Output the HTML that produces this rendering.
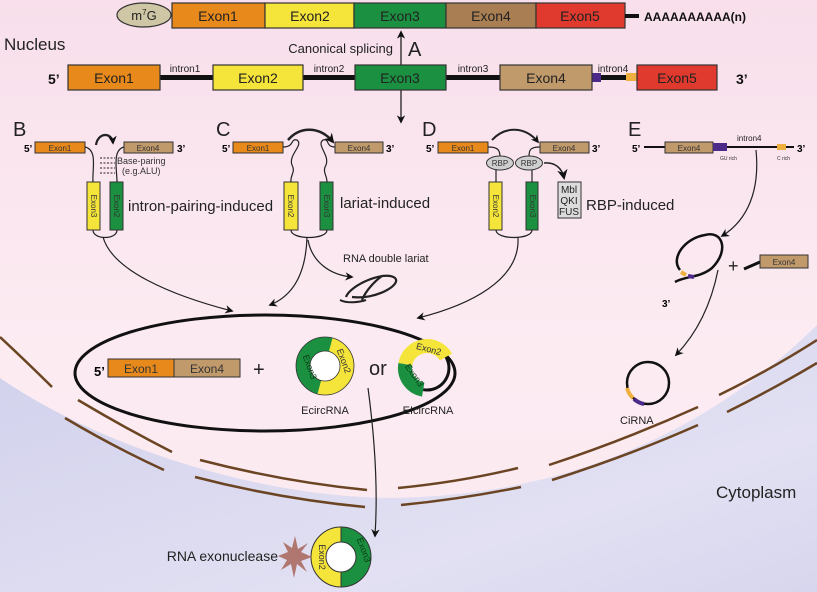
<!DOCTYPE html>
<html><head><meta charset="utf-8"><style>
html,body{margin:0;padding:0;width:817px;height:592px;overflow:hidden;background:#f8e4ee}
svg{display:block;font-family:"Liberation Sans",Arial,sans-serif}
</style></head><body>
<svg width="817" height="592" viewBox="0 0 817 592" xmlns="http://www.w3.org/2000/svg">
<defs>
<linearGradient id="pk" x1="0" y1="0" x2="0" y2="1">
<stop offset="0" stop-color="#f8dfeb"/><stop offset="0.6" stop-color="#fcecf2"/><stop offset="1" stop-color="#fbe8f0"/></linearGradient>
<linearGradient id="lv" x1="0" y1="0" x2="1" y2="1">
<stop offset="0" stop-color="#d0d0ec"/><stop offset="0.7" stop-color="#e2e0f2"/><stop offset="1" stop-color="#d8d6ee"/></linearGradient>
<marker id="ah" viewBox="0 0 10 10" refX="8" refY="5" markerWidth="7" markerHeight="7" orient="auto-start-reverse"><path d="M0,0 L10,5 L0,10 L3,5 z" fill="#111"/></marker>
<marker id="ah2" viewBox="0 0 10 10" refX="8" refY="5" markerWidth="4" markerHeight="4" orient="auto"><path d="M0,0 L10,5 L0,10 L3,5 z" fill="#111"/></marker>
</defs>
<rect width="817" height="592" fill="url(#pk)"/>
<path d="M0,378 C120,460 300,505 420,497 C560,490 700,440 817,325 L817,592 L0,592 Z" fill="url(#lv)"/>
<g stroke="#6b4523" stroke-width="2.5" fill="none">
<path d="M0,337 Q30,365 52,387"/>
<path d="M78,400 Q125,428 172,452"/><path d="M65,418 Q112,446 164,470"/>
<path d="M200,460 Q285,482 367,490"/><path d="M195,477 Q280,499 365,507"/>
<path d="M398,488 Q460,482 518,468"/><path d="M401,505 Q462,499 521,487"/>
<path d="M549,465 Q625,440 698,407"/><path d="M552,480 Q628,456 698,425"/>
<path d="M719,395 Q770,370 817,340"/><path d="M727,412 Q775,388 817,363"/>
</g>
<ellipse cx="144" cy="15" rx="27" ry="12" fill="#cfc6a6" stroke="#333" stroke-width="1.2"/>
<text x="144" y="20" font-size="13" text-anchor="middle" fill="#222">m<tspan font-size="8" dy="-5">7</tspan><tspan dy="5">G</tspan></text>
<g stroke="#333" stroke-width="1.2">
<rect x="172" y="3" width="93" height="25" fill="#e8891c"/>
<rect x="265" y="3" width="89" height="25" fill="#f5e43a"/>
<rect x="354" y="3" width="92" height="25" fill="#1a9040"/>
<rect x="446" y="3" width="90" height="25" fill="#a97e52"/>
<rect x="536" y="3" width="89" height="25" fill="#e03a2e"/>
</g>
<g font-size="14" fill="#222" text-anchor="middle">
<text x="218" y="21">Exon1</text><text x="310" y="21">Exon2</text><text x="400" y="21">Exon3</text><text x="491" y="21">Exon4</text><text x="580" y="21">Exon5</text>
</g>
<rect x="625" y="14" width="14" height="4" fill="#111"/>
<text x="644" y="21" font-size="12" font-weight="bold" fill="#111">AAAAAAAAAA(n)</text>
<text x="4" y="50" font-size="17" fill="#222">Nucleus</text>
<line x1="401" y1="122" x2="401" y2="32" stroke="#111" stroke-width="1.2" marker-end="url(#ah)" marker-start="url(#ah)"/>
<text x="393" y="53" font-size="13" text-anchor="end" fill="#222">Canonical splicing</text>
<text x="408" y="56" font-size="20" fill="#222">A</text>
<g fill="#111"><rect x="160" y="75" width="53" height="5"/><rect x="303" y="75" width="52" height="5"/><rect x="446" y="75" width="54" height="5"/><rect x="592" y="75" width="45" height="5"/></g>
<rect x="592" y="73" width="9" height="9" fill="#4b2a8a"/><rect x="626" y="73" width="11" height="8" fill="#f0b040"/>
<g stroke="#333" stroke-width="1.2">
<rect x="68" y="65" width="92" height="25" fill="#e8891c"/>
<rect x="213" y="65" width="90" height="25" fill="#f5e43a"/>
<rect x="355" y="65" width="91" height="25" fill="#1a9040"/>
<rect x="500" y="65" width="92" height="25" fill="#c19a6b"/>
<rect x="637" y="65" width="80" height="25" fill="#e03a2e"/>
</g>
<g font-size="14" fill="#222" text-anchor="middle">
<text x="114" y="83">Exon1</text><text x="258" y="83">Exon2</text><text x="400" y="83">Exon3</text><text x="546" y="83">Exon4</text><text x="677" y="83">Exon5</text>
</g>
<g font-size="10" fill="#222" text-anchor="middle"><text x="185" y="72">intron1</text><text x="329" y="72">intron2</text><text x="473" y="72">intron3</text><text x="613" y="72">intron4</text></g>
<text x="48" y="84" font-size="14" font-weight="bold" fill="#111">5’</text>
<text x="736" y="84" font-size="14" font-weight="bold" fill="#111">3’</text>

<text x="13" y="136" font-size="20" fill="#222">B</text>
<text x="24" y="152" font-size="10" font-weight="bold">5’</text>
<text x="177" y="152" font-size="10" font-weight="bold">3’</text>
<g stroke="#333" stroke-width="1"><rect x="35" y="142" width="50" height="11" fill="#e8891c"/><rect x="124" y="142" width="49" height="11" fill="#c19a6b"/>
<rect x="87" y="182" width="13" height="48" fill="#f5e43a"/><rect x="110" y="182" width="13" height="48" fill="#1a9040"/></g>
<text x="60" y="151" font-size="8" text-anchor="middle" fill="#333">Exon1</text><text x="148" y="151" font-size="8" text-anchor="middle" fill="#333">Exon4</text>
<text transform="translate(91,206) rotate(90)" font-size="8" text-anchor="middle" fill="#333">Exon3</text>
<text transform="translate(114,206) rotate(90)" font-size="8" text-anchor="middle" fill="#333">Exon2</text>
<g fill="none" stroke="#222" stroke-width="1.2">
<path d="M85,147 C98,150 92,170 93,182"/><path d="M124,147 C112,150 117,170 117,182"/>
<path d="M93,230 C93,240 117,240 117,230"/>
<path d="M96,145 C98,132 112,132 113,143" stroke-width="2.2" marker-end="url(#ah2)"/>
<path d="M100,158 H115 M100,163 H115 M100,168 H115 M100,173 H115" stroke-dasharray="2,1.5" stroke-width="1"/>
<path d="M103,237 C112,270 170,295 232,311" marker-end="url(#ah)"/>
</g>
<text x="117" y="164" font-size="9" fill="#333">Base-paring</text><text x="122" y="174" font-size="9" fill="#333">(e.g.ALU)</text>
<text x="128" y="211" font-size="15" fill="#222">intron-pairing-induced</text>

<text x="216" y="136" font-size="20" fill="#222">C</text>
<text x="222" y="152" font-size="10" font-weight="bold">5’</text>
<text x="386" y="152" font-size="10" font-weight="bold">3’</text>
<g stroke="#333" stroke-width="1"><rect x="233" y="142" width="50" height="11" fill="#e8891c"/><rect x="335" y="142" width="48" height="11" fill="#c19a6b"/>
<rect x="284" y="182" width="14" height="48" fill="#f5e43a"/><rect x="320" y="182" width="13" height="48" fill="#1a9040"/></g>
<text x="258" y="151" font-size="8" text-anchor="middle" fill="#333">Exon1</text><text x="359" y="151" font-size="8" text-anchor="middle" fill="#333">Exon4</text>
<text transform="translate(288,206) rotate(90)" font-size="8" text-anchor="middle" fill="#333">Exon2</text>
<text transform="translate(324,206) rotate(90)" font-size="8" text-anchor="middle" fill="#333">Exon3</text>
<g fill="none" stroke="#222" stroke-width="1.2">
<path d="M283,147 C295,147 290,138 297,140 C304,145 288,155 292,165 C296,172 290,175 291,182"/>
<path d="M335,147 C325,147 330,138 323,140 C316,145 330,155 326,165 C322,172 327,175 327,182"/>
<path d="M291,230 C291,240 327,240 327,230"/>
<path d="M288,140 C300,126 320,126 333,142" stroke-width="2.5" marker-end="url(#ah2)"/>
<path d="M307,237 C306,270 295,295 270,305" marker-end="url(#ah)"/>
<path d="M308,240 C312,262 330,275 352,277" marker-end="url(#ah)"/>
<path d="M346,297 C350,285 385,270 395,278 C402,285 375,300 352,297" stroke-width="2.2"/>
<path d="M362,300 C366,290 376,280 382,276" stroke-width="2.2"/>
<path d="M340,300 C348,304 360,302 366,300" stroke-width="2"/>
</g>
<text x="340" y="208" font-size="15" fill="#222">lariat-induced</text>
<text x="343" y="262" font-size="11" fill="#222">RNA double lariat</text>

<text x="422" y="136" font-size="20" fill="#222">D</text>
<text x="426" y="152" font-size="10" font-weight="bold">5’</text>
<text x="592" y="152" font-size="10" font-weight="bold">3’</text>
<g stroke="#333" stroke-width="1"><rect x="438" y="142" width="50" height="11" fill="#e8891c"/><rect x="540" y="142" width="49" height="11" fill="#c19a6b"/>
<rect x="489" y="182" width="13" height="48" fill="#f5e43a"/><rect x="526" y="182" width="12" height="48" fill="#1a9040"/>
<rect x="558" y="182" width="23" height="36" fill="#dcdcdc"/></g>
<text x="463" y="151" font-size="8" text-anchor="middle" fill="#333">Exon1</text><text x="564" y="151" font-size="8" text-anchor="middle" fill="#333">Exon4</text>
<text transform="translate(493,206) rotate(90)" font-size="8" text-anchor="middle" fill="#333">Exon2</text>
<text transform="translate(530,206) rotate(90)" font-size="8" text-anchor="middle" fill="#333">Exon3</text>
<g fill="none" stroke="#222" stroke-width="1.2">
<path d="M488,147 C498,147 500,150 500,157"/><path d="M540,147 C530,147 529,150 529,157"/>
<line x1="496" y1="170" x2="496" y2="182"/><line x1="532" y1="170" x2="532" y2="182"/>
<path d="M496,230 C496,240 532,240 532,230"/>
<path d="M492,140 C505,126 525,126 538,142" stroke-width="2" marker-end="url(#ah2)"/>
<path d="M544,163 C555,162 562,168 564,178" stroke-width="1.5" marker-end="url(#ah)"/>
<path d="M518,238 C520,280 470,305 418,318" marker-end="url(#ah)"/>
</g>
<g fill="#cfcfcf" stroke="#333" stroke-width="1"><ellipse cx="500" cy="163" rx="13.5" ry="7"/><ellipse cx="529" cy="163" rx="13.5" ry="7"/></g>
<text x="500" y="166" font-size="8" text-anchor="middle" fill="#333">RBP</text><text x="529" y="166" font-size="8" text-anchor="middle" fill="#333">RBP</text>
<g font-size="10" fill="#222" text-anchor="middle"><text x="569" y="193">Mbl</text><text x="569" y="204">QKI</text><text x="569" y="215">FUS</text></g>
<text x="586" y="210" font-size="15" fill="#222">RBP-induced</text>

<text x="628" y="136" font-size="20" fill="#222">E</text>
<text x="632" y="152" font-size="10" font-weight="bold">5’</text>
<text x="797" y="152" font-size="10" font-weight="bold">3’</text>
<line x1="644" y1="147" x2="794" y2="147" stroke="#111" stroke-width="2"/>
<rect x="665" y="142" width="48" height="11" fill="#c19a6b" stroke="#333"/>
<text x="689" y="151" font-size="8" text-anchor="middle" fill="#333">Exon4</text>
<rect x="713" y="143" width="14" height="8" fill="#4b2a8a"/>
<rect x="777" y="144" width="9" height="6" fill="#f0b040"/>
<text x="737" y="141" font-size="8" fill="#222">intron4</text>
<text x="720" y="160" font-size="5" fill="#333">GU rich</text><text x="777" y="160" font-size="5" fill="#333">C rich</text>
<g fill="none" stroke="#222" stroke-width="1.2">
<path d="M756,150 C760,190 748,220 722,236" marker-end="url(#ah)"/>
<path d="M718,270 C712,300 700,330 676,355" marker-end="url(#ah)"/>
</g>
<path d="M675,282 C685,276 700,278 712,268 C730,250 722,230 705,235 C685,238 670,258 680,270" fill="none" stroke="#111" stroke-width="2.5"/>
<line x1="681" y1="272" x2="686" y2="275" stroke="#f0b040" stroke-width="4"/>
<line x1="688" y1="276" x2="694" y2="277" stroke="#4b2a8a" stroke-width="4"/>
<text x="662" y="307" font-size="10" font-weight="bold">3’</text>
<text x="728" y="272" font-size="18" fill="#222">+</text>
<path d="M744,269 L760,262" stroke="#111" stroke-width="3"/>
<rect x="760" y="255" width="48" height="13" fill="#c19a6b" stroke="#333"/>
<text x="784" y="265" font-size="8" text-anchor="middle" fill="#333">Exon4</text>
<circle cx="648" cy="383" r="21" fill="none" stroke="#111" stroke-width="2.5"/>
<path d="M627,388 A21,21 0 0 0 633,398" fill="none" stroke="#f0b040" stroke-width="4"/>
<path d="M634,399 A21,21 0 0 0 644,404" fill="none" stroke="#4b2a8a" stroke-width="4"/>
<text x="620" y="424" font-size="11" fill="#222">CiRNA</text>

<ellipse cx="265" cy="373" rx="190" ry="58" fill="#fbeaf1" stroke="#111" stroke-width="3"/>
<text x="94" y="376" font-size="13" font-weight="bold">5’</text>
<rect x="108" y="359" width="66" height="18" fill="#e8891c" stroke="#333"/><rect x="174" y="359" width="66" height="18" fill="#c19a6b" stroke="#333"/>
<text x="141" y="373" font-size="12" text-anchor="middle" fill="#333">Exon1</text><text x="207" y="373" font-size="12" text-anchor="middle" fill="#333">Exon4</text>
<text x="253" y="376" font-size="20" fill="#222">+</text>
<circle cx="325" cy="366" r="22" fill="none" stroke="#1a9040" stroke-width="14"/>
<path d="M330.7,344.75 A22,22 0 0 1 319.3,387.25" fill="none" stroke="#f5e43a" stroke-width="14"/>
<circle cx="325" cy="366" r="29" fill="none" stroke="#333" stroke-width="0.8"/><circle cx="325" cy="366" r="15" fill="#fff" stroke="#333" stroke-width="0.8"/>
<text transform="translate(341,362) rotate(70)" font-size="9" text-anchor="middle" fill="#333">Exon2</text>
<text transform="translate(307,368) rotate(70)" font-size="9" text-anchor="middle" fill="#0b3a15">Exon3</text>
<text x="325" y="414" font-size="11" text-anchor="middle" fill="#222">EcircRNA</text>
<text x="369" y="375" font-size="20" fill="#222">or</text>
<path d="M405.3,364.2 A22,22 0 0 1 446,357" fill="none" stroke="#f5e43a" stroke-width="14"/>
<path d="M423.2,389.7 A22,22 0 0 1 405.3,364.2" fill="none" stroke="#1a9040" stroke-width="14"/>
<path d="M446,357 A22,22 0 0 1 423.2,389.7" fill="none" stroke="#111" stroke-width="3"/>
<text transform="translate(428,352) rotate(15)" font-size="9" text-anchor="middle" fill="#333">Exon2</text>
<text transform="translate(412,377) rotate(55)" font-size="9" text-anchor="middle" fill="#0b3a15">Exon3</text>
<text x="428" y="414" font-size="11" text-anchor="middle" fill="#222">EIcircRNA</text>
<path d="M368,388 C375,440 378,490 375,536" fill="none" stroke="#222" stroke-width="1.2" marker-end="url(#ah)"/>

<path d="M341,527 A30,30 0 0 0 341,587 Z" fill="#f5e43a"/>
<path d="M341,527 A30,30 0 0 1 341,587 Z" fill="#1a9040"/>
<circle cx="341" cy="557" r="30" fill="none" stroke="#333" stroke-width="1"/>
<circle cx="341" cy="557" r="15" fill="#fff" stroke="#333" stroke-width="1"/>
<line x1="341" y1="527" x2="341" y2="542" stroke="#333"/><line x1="341" y1="572" x2="341" y2="587" stroke="#333"/>
<text transform="translate(319,557) rotate(90)" font-size="9" text-anchor="middle" fill="#333">Exon2</text>
<text transform="translate(361,551) rotate(70)" font-size="9" text-anchor="middle" fill="#0b3a15">Exon3</text>
<polygon points="295,536 298,549 308,543 301,552 312,557 301,561 307,572 297,564 294,578 291,564 281,570 287,560 278,556 288,552 283,542 292,548" fill="#b07670"/>
<text x="278" y="561" font-size="14" text-anchor="end" fill="#222">RNA exonuclease</text>
<text x="716" y="498" font-size="17" fill="#222">Cytoplasm</text>
</svg>
</body></html>
